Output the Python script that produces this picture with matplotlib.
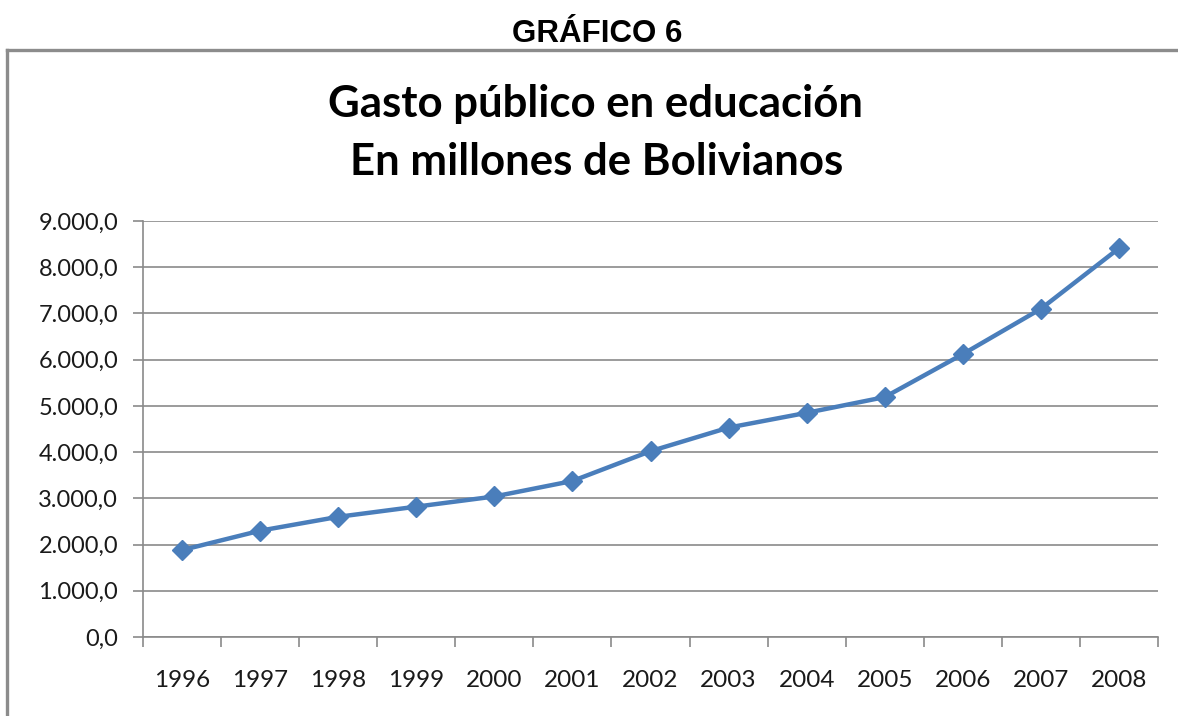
import matplotlib
matplotlib.use("Agg")
import matplotlib.pyplot as plt
from matplotlib.lines import Line2D

# Public spending on education, millions of Bolivianos
years = ["1996", "1997", "1998", "1999", "2000", "2001", "2002",
         "2003", "2004", "2005", "2006", "2007", "2008"]
gasto = [1880, 2300, 2600, 2820, 3040, 3375, 4020,
         4530, 4850, 5190, 6120, 7100, 8410]
y_ticks = [0, 1000, 2000, 3000, 4000, 5000, 6000, 7000, 8000, 9000]
y_tick_labels = ["0,0", "1.000,0", "2.000,0", "3.000,0", "4.000,0",
                 "5.000,0", "6.000,0", "7.000,0", "8.000,0", "9.000,0"]

W, H = 1178, 716
fig = plt.figure(figsize=(W / 100, H / 100), dpi=100)
fig.patch.set_facecolor("white")

# outer frame (top and left edges)
frame_col = "#8c8c8c"
fig.add_artist(Line2D([7 / W, 1.0], [1 - 50 / H, 1 - 50 / H],
                      transform=fig.transFigure, color=frame_col, lw=2.4))
fig.add_artist(Line2D([7 / W, 7 / W], [1 - 50 / H, 0.0],
                      transform=fig.transFigure, color=frame_col, lw=2.4))

fig.text(597 / W, 1 - 42 / H, "GRÁFICO 6", ha="center", va="baseline",
         fontsize=22.5, fontweight="bold", family="Liberation Sans")
fig.text(595 / W, 1 - 117 / H, "Gasto público en educación", ha="center",
         va="baseline", fontsize=31.5, fontweight="bold", family="Lato")
fig.text(597 / W, 1 - 175 / H, "En millones de Bolivianos", ha="center",
         va="baseline", fontsize=31.5, fontweight="bold", family="Lato")

left, right, top, bottom = 143, 1158, 221, 637
ax = fig.add_axes([left / W, 1 - bottom / H, (right - left) / W, (bottom - top) / H])

x = list(range(len(years)))
ax.plot(x, gasto, color="#4a7ebb", lw=3.2, marker="D", markersize=10,
        markerfacecolor="#4a7ebb", markeredgecolor="#4a7ebb",
        solid_joinstyle="round", zorder=3, clip_on=False)

ax.set_xlim(-0.5, len(years) - 0.5)
ax.set_ylim(0, 9000)

grid_col = "#8a8a8a"
ax.set_yticks(y_ticks)
ax.set_yticklabels(y_tick_labels)
ax.yaxis.grid(True, color=grid_col, lw=1.2)
ax.set_axisbelow(True)

# category boundaries as tick marks, labels at category centres
ax.set_xticks([i - 0.5 for i in range(len(years) + 1)])
ax.set_xticklabels([])
ax.set_xticks(x, minor=True)
ax.set_xticklabels(years, minor=True)
ax.tick_params(axis="x", which="major", length=7, width=1.2, color=grid_col,
               direction="out")
ax.tick_params(axis="x", which="minor", length=0, pad=24, labelsize=17.5,
               labelcolor="#1a1a1a")
ax.tick_params(axis="y", length=7, width=1.2, color=grid_col, pad=11,
               labelsize=17, labelcolor="#1a1a1a")
for lbl in ax.get_xticklabels(minor=True) + ax.get_yticklabels():
    lbl.set_family("Lato")

for side in ("top", "right"):
    ax.spines[side].set_visible(False)
for side in ("left", "bottom"):
    ax.spines[side].set_color(grid_col)
    ax.spines[side].set_linewidth(1.2)

fig.savefig("out.png", dpi=100, facecolor="white")
